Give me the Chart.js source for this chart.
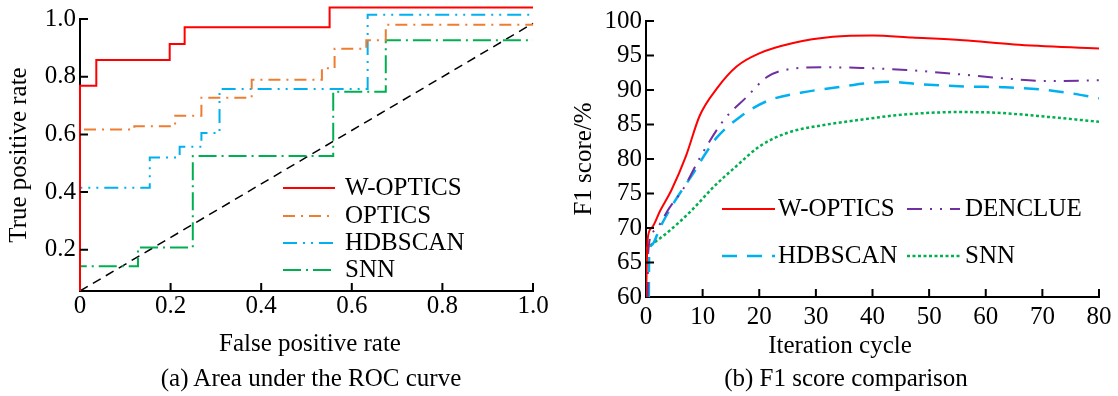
<!DOCTYPE html>
<html>
<head>
<meta charset="utf-8">
<script src="https://cdn.jsdelivr.net/npm/chart.js@4.4.0/dist/chart.umd.min.js"></script>
<style>
    body { margin: 0; background: #fff; }
    #wrap { position: relative; width: 1118px; height: 396px; font-family: "Liberation Serif", "Times New Roman", serif; color: #000; }
    canvas { position: absolute; top: 0; }
    .lbl { position: absolute; font-size: 25px; line-height: 30px; white-space: nowrap; transform: translateX(-50%); }
</style>
</head>
<body>
<div id="wrap">
    <canvas id="rocChart" width="556" height="360" style="left:0"></canvas>
    <canvas id="f1Chart" width="562" height="360" style="left:556px"></canvas>
    <div class="lbl" style="left:310px;top:328px">False positive rate</div>
    <div class="lbl" style="left:840px;top:330px">Iteration cycle</div>
    <div class="lbl" style="left:311px;top:363px">(a) Area under the ROC curve</div>
    <div class="lbl" style="left:846px;top:363px">(b) F1 score comparison</div>
</div>
<script>
// (a) courbes ROC (points des marches)
const rocXTicks = [0, 0.2, 0.4, 0.6, 0.8, 1.0];
const rocYTicks = [0.2, 0.4, 0.6, 0.8, 1.0];

const woFpr = [0, 0, 0.036, 0.198, 0.231, 0.551, 1.0];
const woTpr = [0, 0.769, 0.858, 0.913, 0.971, 1.04, 1.04];
const opFpr = [0, 0, 0.12, 0.21, 0.268, 0.379, 0.534, 0.562, 0.632, 0.675, 1.0];
const opTpr = [0, 0.617, 0.628, 0.665, 0.727, 0.789, 0.829, 0.897, 0.926, 0.98, 0.98];
const hdFpr = [0, 0, 0.154, 0.22, 0.268, 0.308, 0.635, 1.0];
const hdTpr = [0, 0.415, 0.52, 0.557, 0.605, 0.757, 1.015, 1.015];
const snFpr = [0, 0, 0.128, 0.249, 0.559, 0.675, 1.0];
const snTpr = [0, 0.143, 0.208, 0.525, 0.748, 0.926, 0.926];
const diagX = [0, 1.0];
const diagY = [0.057, 0.985];

// (b) F1 score
const f1XTicks = [0, 10, 20, 30, 40, 50, 60, 70, 80];
const f1YTicks = [60, 65, 70, 75, 80, 85, 90, 95, 100];

const woIter = [0, 0.3, 1, 2.5, 4.5, 7, 9.5, 12.5, 16, 20, 26, 33, 40, 47, 56, 65, 80];
const woF1 = [60, 68.5, 70, 72.5, 75.5, 80.3, 86.3, 90.2, 93.4, 95.3, 96.8, 97.7, 97.9, 97.6, 97.2, 96.6, 96.0];
const deIter = [0.3, 0.35, 1.3, 4.2, 6.6, 9.6, 13.7, 17.8, 21.4, 26, 31, 38, 46, 55, 63, 71, 80];
const deF1 = [60, 66, 69.5, 73, 75.7, 80.3, 85.6, 89, 91.9, 93.1, 93.3, 93.2, 92.9, 92.3, 91.7, 91.3, 91.4];
const hdIter = [0.5, 0.55, 1, 2.5, 4.8, 8.4, 10.6, 12.6, 16.6, 21.4, 27.3, 33.8, 39, 43, 49, 57, 63, 69.6, 76, 80];
const hdF1 = [60, 66, 67.5, 70.1, 73.5, 78, 80.9, 83.2, 86.1, 88.4, 89.6, 90.4, 91.0, 91.2, 90.8, 90.5, 90.4, 90.1, 89.4, 88.8];
const snIter = [0, 4, 8, 12, 16, 20, 25, 32, 38, 45, 55, 62, 71, 80];
const snF1 = [67, 69.5, 72.5, 76, 79, 81.8, 83.8, 85, 85.7, 86.4, 86.8, 86.7, 86.1, 85.4];

const serif = '"Liberation Serif", "Times New Roman", serif';

function pts(xs, ys) {
    return xs.map((x, i) => ({x: x, y: ys[i]}));
}

// petits traits de graduation vers l'interieur
const innerTicks = {
    id: 'innerTicks',
    afterDraw(chart) {
        const ctx = chart.ctx;
        const area = chart.chartArea;
        const sx = chart.scales.x, sy = chart.scales.y;
        ctx.save();
        ctx.strokeStyle = '#000';
        ctx.lineWidth = 2;
        ctx.beginPath();
        sx.ticks.forEach(t => {
            if (t.value === sx.min) return;
            const p = sx.getPixelForValue(t.value);
            ctx.moveTo(p, area.bottom);
            ctx.lineTo(p, area.bottom - 8);
        });
        sy.ticks.forEach(t => {
            if (t.value === sy.min) return;
            const p = sy.getPixelForValue(t.value);
            ctx.moveTo(area.left, p);
            ctx.lineTo(area.left + 8, p);
        });
        ctx.stroke();
        ctx.restore();
    }
};

// legende placee a la main dans la zone du graphe
const inLegend = {
    id: 'inLegend',
    afterDraw(chart, args, o) {
        if (!o.items) return;
        const ctx = chart.ctx;
        ctx.save();
        ctx.font = '25px ' + serif;
        ctx.textBaseline = 'middle';
        o.items.forEach(it => {
            const ds = chart.data.datasets[it.index];
            ctx.strokeStyle = ds.borderColor;
            ctx.lineWidth = ds.borderWidth;
            ctx.setLineDash(ds.borderDash || []);
            ctx.beginPath();
            ctx.moveTo(it.x, it.y);
            ctx.lineTo(it.x + o.lineLen, it.y);
            ctx.stroke();
            ctx.setLineDash([]);
            ctx.fillStyle = '#000';
            ctx.fillText(ds.label, it.tx, it.y);
        });
        ctx.restore();
    }
};

chartIt();
async function chartIt() {
    // la police doit etre chargee avant de dessiner sur le canvas
    await document.fonts.load('25px "Liberation Serif"');

    Chart.defaults.font.family = serif;
    Chart.defaults.font.size = 25;
    Chart.defaults.color = '#000';

    const rocClip = {left: 2, top: 20, right: 6, bottom: 0};

    new Chart(document.getElementById('rocChart').getContext('2d'), {
        type: 'line',
        data: {
            datasets: [
                {label: 'W-OPTICS', data: pts(woFpr, woTpr), borderColor: '#ff0000', borderWidth: 2, stepped: true, clip: rocClip},
                {label: 'OPTICS', data: pts(opFpr, opTpr), borderColor: '#ed7d31', borderWidth: 2, borderDash: [12, 6, 2, 6], stepped: true, clip: rocClip},
                {label: 'HDBSCAN', data: pts(hdFpr, hdTpr), borderColor: '#00b0f0', borderWidth: 2, borderDash: [14, 6, 2, 6, 2, 6], stepped: true, clip: rocClip},
                {label: 'SNN', data: pts(snFpr, snTpr), borderColor: '#00b050', borderWidth: 2, borderDash: [18, 5, 2, 5], stepped: true, clip: rocClip},
                {label: '', data: pts(diagX, diagY), borderColor: '#000', borderWidth: 1.5, borderDash: [9, 6], clip: rocClip}
            ]
        },
        options: {
            responsive: false,
            animation: false,
            events: [],
            layout: {padding: {left: 0, top: 15, right: 23, bottom: 0}},
            elements: {point: {radius: 0}, line: {fill: false, tension: 0}},
            scales: {
                x: {
                    type: 'linear', min: 0, max: 1.0,
                    afterBuildTicks: s => { s.ticks = rocXTicks.map(v => ({value: v})); },
                    afterFit: s => { s.height = 69; },
                    grid: {display: false, drawTicks: false},
                    border: {display: true, color: '#000', width: 2},
                    ticks: {padding: 0, autoSkip: false, maxRotation: 0, font: {family: serif, size: 25}, callback: v => v === 0 ? '0' : v.toFixed(1)}
                },
                y: {
                    type: 'linear', min: 0.057, max: 1.0,
                    afterBuildTicks: s => { s.ticks = rocYTicks.map(v => ({value: v})); },
                    afterFit: s => { s.width = 80; },
                    grid: {display: false, drawTicks: false},
                    border: {display: true, color: '#000', width: 2},
                    ticks: {padding: 4, font: {family: serif, size: 25}, callback: v => v.toFixed(1)},
                    title: {display: true, text: 'True positive rate', font: {family: serif, size: 25}, padding: {top: 4, bottom: 0}}
                }
            },
            plugins: {
                legend: {display: false},
                tooltip: {enabled: false},
                inLegend: {
                    lineLen: 52,
                    items: [
                        {index: 0, x: 283, y: 188, tx: 345},
                        {index: 1, x: 283, y: 216, tx: 345},
                        {index: 2, x: 283, y: 243, tx: 345},
                        {index: 3, x: 283, y: 270, tx: 345}
                    ]
                }
            }
        },
        plugins: [innerTicks, inLegend]
    });

    new Chart(document.getElementById('f1Chart').getContext('2d'), {
        type: 'line',
        data: {
            datasets: [
                {label: 'W-OPTICS', data: pts(woIter, woF1), borderColor: '#ff0000', borderWidth: 2},
                {label: 'DENCLUE', data: pts(deIter, deF1), borderColor: '#7030a0', borderWidth: 2, borderDash: [15, 8, 2, 8, 2, 8]},
                {label: 'HDBSCAN', data: pts(hdIter, hdF1), borderColor: '#00b0f0', borderWidth: 2.5, borderDash: [15, 10]},
                {label: 'SNN', data: pts(snIter, snF1), borderColor: '#00b050', borderWidth: 2.5, borderDash: [3, 2.5]}
            ]
        },
        options: {
            responsive: false,
            animation: false,
            events: [],
            layout: {padding: {left: 0, top: 21, right: 19, bottom: 0}},
            elements: {point: {radius: 0}, line: {fill: false, cubicInterpolationMode: 'monotone'}},
            scales: {
                x: {
                    type: 'linear', min: 0, max: 80,
                    afterBuildTicks: s => { s.ticks = f1XTicks.map(v => ({value: v})); },
                    afterFit: s => { s.height = 63; },
                    grid: {display: false, drawTicks: false},
                    border: {display: true, color: '#000', width: 2},
                    ticks: {padding: 5, autoSkip: false, maxRotation: 0, font: {family: serif, size: 25}}
                },
                y: {
                    type: 'linear', min: 60, max: 100,
                    afterBuildTicks: s => { s.ticks = f1YTicks.map(v => ({value: v})); },
                    afterFit: s => { s.width = 90; },
                    grid: {display: false, drawTicks: false},
                    border: {display: true, color: '#000', width: 2},
                    ticks: {padding: 4, font: {family: serif, size: 25}},
                    title: {display: true, text: 'F1 score/%', font: {family: serif, size: 25}, padding: {top: 13, bottom: 0}}
                }
            },
            plugins: {
                legend: {display: false},
                tooltip: {enabled: false},
                inLegend: {
                    lineLen: 53,
                    items: [
                        {index: 0, x: 166, y: 209, tx: 222},
                        {index: 1, x: 351, y: 209, tx: 409},
                        {index: 2, x: 166, y: 256, tx: 222},
                        {index: 3, x: 351, y: 256, tx: 409}
                    ]
                }
            }
        },
        plugins: [innerTicks, inLegend]
    });
}
</script>
</body>
</html>
